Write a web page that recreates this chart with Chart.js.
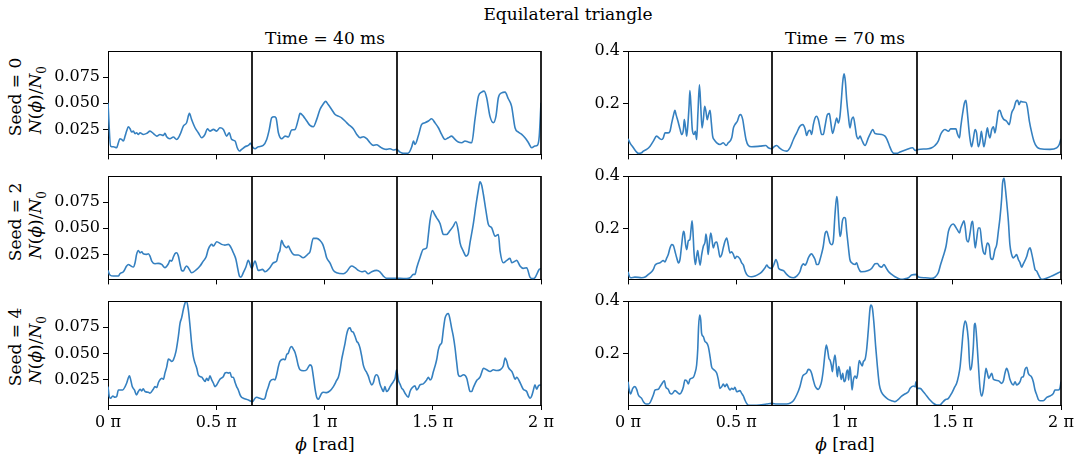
<!DOCTYPE html>
<html>
<head>
<meta charset="utf-8">
<script src="https://cdn.jsdelivr.net/npm/chart.js@4.4.0/dist/chart.umd.min.js"></script>
<style>
  body { margin: 0; width: 1079px; height: 462px; overflow: hidden; background: #fff;
         font-family: "DejaVu Serif", serif; color: #000; }
  canvas { position: absolute; }
  .lbl { position: absolute; font-size: 17px; white-space: nowrap; transform: translate(-50%, -50%); }
  .rot { transform: translate(-50%, -50%) rotate(-90deg); }
  sub { font-size: 12px; }
</style>
</head>
<body>
<div class="lbl" style="left:568px;top:14px">Equilateral triangle</div>
<div class="lbl" style="left:325px;top:38px">Time = 40 ms</div>
<div class="lbl" style="left:845px;top:38px">Time = 70 ms</div>
<div class="lbl" style="left:325px;top:444px"><i>ϕ</i> [rad]</div>
<div class="lbl" style="left:845px;top:444px"><i>ϕ</i> [rad]</div>
<div class="lbl rot" style="left:15px;top:97px">Seed = 0</div>
<div class="lbl rot" style="left:37px;top:100px"><i>N</i>(<i>ϕ</i>)/<i>N</i><sub>0</sub></div>
<div class="lbl rot" style="left:15px;top:222px">Seed = 2</div>
<div class="lbl rot" style="left:37px;top:225px"><i>N</i>(<i>ϕ</i>)/<i>N</i><sub>0</sub></div>
<div class="lbl rot" style="left:15px;top:347px">Seed = 4</div>
<div class="lbl rot" style="left:37px;top:350px"><i>N</i>(<i>ϕ</i>)/<i>N</i><sub>0</sub></div>

<script>
// angle phi in units of pi, normalised count N(phi)/N0

// t = 40 ms, seed 0
const phi40s0 = [
  0, 0.012, 0.025, 0.040, 0.048, 0.055, 0.063, 0.071, 0.079, 0.086,
  0.094, 0.102, 0.109, 0.117, 0.125, 0.132, 0.140, 0.148, 0.163, 0.179,
  0.194, 0.209, 0.225, 0.240, 0.256, 0.263, 0.271, 0.286, 0.302, 0.317,
  0.333, 0.348, 0.363, 0.376, 0.386, 0.402, 0.417, 0.433, 0.448, 0.459,
  0.471, 0.487, 0.502, 0.517, 0.533, 0.548, 0.560, 0.571, 0.587, 0.597,
  0.607, 0.617, 0.633, 0.648, 0.659, 0.667, 0.679, 0.694, 0.717, 0.733,
  0.745, 0.756, 0.767, 0.776, 0.787, 0.802, 0.818, 0.833, 0.848, 0.864,
  0.879, 0.887, 0.902, 0.918, 0.933, 0.948, 0.964, 0.979, 0.995, 1.005,
  1.017, 1.033, 1.049, 1.064, 1.079, 1.095, 1.110, 1.133, 1.149, 1.164,
  1.179, 1.195, 1.210, 1.226, 1.241, 1.256, 1.272, 1.287, 1.303, 1.318,
  1.333, 1.349, 1.364, 1.380, 1.392, 1.403, 1.411, 1.418, 1.433, 1.449,
  1.464, 1.480, 1.495, 1.510, 1.526, 1.541, 1.557, 1.572, 1.587, 1.603,
  1.618, 1.634, 1.649, 1.664, 1.680, 1.695, 1.711, 1.726, 1.737, 1.749,
  1.764, 1.780, 1.792, 1.803, 1.818, 1.834, 1.849, 1.864, 1.880, 1.895,
  1.911, 1.926, 1.942, 1.957, 1.972, 1.983, 1.992, 2.000
];
const n40s0 = [
  0.0505, 0.0091, 0.0084, 0.0075, 0.0123, 0.0161, 0.0154, 0.0139, 0.0186, 0.0234,
  0.0275, 0.0256, 0.0225, 0.0234, 0.0209, 0.0218, 0.0202, 0.0218, 0.0202, 0.0212,
  0.0234, 0.0212, 0.0186, 0.0202, 0.0193, 0.0212, 0.0180, 0.0161, 0.0177, 0.0154,
  0.0202, 0.0282, 0.0314, 0.0403, 0.0346, 0.0266, 0.0218, 0.0170, 0.0202, 0.0256,
  0.0234, 0.0250, 0.0234, 0.0266, 0.0250, 0.0186, 0.0218, 0.0154, 0.0139, 0.0075,
  0.0043, 0.0059, 0.0084, 0.0097, 0.0116, 0.0084, 0.0065, 0.0084, 0.0097, 0.0154,
  0.0250, 0.0361, 0.0371, 0.0361, 0.0218, 0.0161, 0.0186, 0.0177, 0.0244, 0.0250,
  0.0346, 0.0403, 0.0377, 0.0330, 0.0288, 0.0275, 0.0346, 0.0441, 0.0495, 0.0518,
  0.0489, 0.0441, 0.0393, 0.0377, 0.0361, 0.0330, 0.0298, 0.0256, 0.0202, 0.0170,
  0.0180, 0.0161, 0.0123, 0.0097, 0.0104, 0.0084, 0.0065, 0.0059, 0.0065, 0.0053,
  0.0059, 0.0033, 0.0021, 0.0021, 0.0033, 0.0084, 0.0139, 0.0107, 0.0186, 0.0298,
  0.0314, 0.0330, 0.0352, 0.0314, 0.0266, 0.0202, 0.0154, 0.0170, 0.0186, 0.0154,
  0.0129, 0.0123, 0.0139, 0.0129, 0.0123, 0.0346, 0.0568, 0.0607, 0.0616, 0.0553,
  0.0377, 0.0314, 0.0377, 0.0553, 0.0600, 0.0607, 0.0543, 0.0473, 0.0266, 0.0225,
  0.0202, 0.0170, 0.0123, 0.0075, 0.0091, 0.0097, 0.0186, 0.0505
];

// t = 40 ms, seed 2
const phi40s2 = [
  0, 0.009, 0.025, 0.048, 0.055, 0.071, 0.086, 0.094, 0.102, 0.117,
  0.125, 0.132, 0.140, 0.148, 0.156, 0.163, 0.179, 0.186, 0.194, 0.202,
  0.217, 0.232, 0.248, 0.263, 0.279, 0.286, 0.294, 0.302, 0.309, 0.317,
  0.325, 0.333, 0.340, 0.348, 0.356, 0.363, 0.371, 0.386, 0.410, 0.425,
  0.440, 0.453, 0.463, 0.479, 0.487, 0.502, 0.525, 0.540, 0.556, 0.564,
  0.579, 0.591, 0.597, 0.607, 0.614, 0.625, 0.637, 0.648, 0.664, 0.679,
  0.694, 0.714, 0.725, 0.748, 0.764, 0.779, 0.787, 0.794, 0.802, 0.810,
  0.825, 0.833, 0.841, 0.853, 0.864, 0.879, 0.902, 0.925, 0.933, 0.948,
  0.964, 0.979, 0.992, 1.002, 1.010, 1.025, 1.041, 1.056, 1.087, 1.102,
  1.118, 1.125, 1.141, 1.156, 1.172, 1.187, 1.202, 1.218, 1.241, 1.256,
  1.272, 1.287, 1.318, 1.349, 1.380, 1.395, 1.411, 1.418, 1.426, 1.441,
  1.456, 1.472, 1.480, 1.487, 1.498, 1.507, 1.518, 1.534, 1.541, 1.549,
  1.564, 1.580, 1.595, 1.607, 1.618, 1.626, 1.641, 1.654, 1.664, 1.672,
  1.687, 1.700, 1.711, 1.718, 1.726, 1.734, 1.746, 1.757, 1.772, 1.788,
  1.803, 1.811, 1.826, 1.842, 1.857, 1.865, 1.880, 1.888, 1.903, 1.918,
  1.934, 1.949, 1.962, 1.972, 1.992, 2.000
];
const n40s2 = [
  0.0097, 0.0053, 0.0043, 0.0043, 0.0065, 0.0084, 0.0139, 0.0154, 0.0145, 0.0129,
  0.0170, 0.0250, 0.0288, 0.0266, 0.0275, 0.0256, 0.0250, 0.0256, 0.0234, 0.0186,
  0.0161, 0.0164, 0.0154, 0.0123, 0.0161, 0.0193, 0.0186, 0.0225, 0.0256, 0.0266,
  0.0234, 0.0154, 0.0097, 0.0091, 0.0123, 0.0139, 0.0123, 0.0075, 0.0107, 0.0139,
  0.0186, 0.0225, 0.0298, 0.0346, 0.0330, 0.0371, 0.0346, 0.0339, 0.0346, 0.0330,
  0.0266, 0.0202, 0.0139, 0.0043, 0.0033, 0.0075, 0.0129, 0.0193, 0.0116, 0.0186,
  0.0097, 0.0107, 0.0084, 0.0123, 0.0170, 0.0186, 0.0256, 0.0288, 0.0384, 0.0346,
  0.0314, 0.0330, 0.0298, 0.0256, 0.0244, 0.0244, 0.0218, 0.0256, 0.0275, 0.0403,
  0.0403, 0.0384, 0.0346, 0.0282, 0.0218, 0.0170, 0.0097, 0.0075, 0.0065, 0.0084,
  0.0129, 0.0139, 0.0123, 0.0097, 0.0084, 0.0091, 0.0065, 0.0084, 0.0097, 0.0084,
  0.0043, 0.0021, 0.0021, 0.0021, 0.0018, 0.0027, 0.0059, 0.0059, 0.0123, 0.0218,
  0.0298, 0.0314, 0.0441, 0.0568, 0.0670, 0.0639, 0.0600, 0.0543, 0.0489, 0.0441,
  0.0441, 0.0479, 0.0521, 0.0562, 0.0473, 0.0361, 0.0282, 0.0234, 0.0256, 0.0361,
  0.0537, 0.0728, 0.0871, 0.0944, 0.0912, 0.0823, 0.0664, 0.0537, 0.0505, 0.0425,
  0.0441, 0.0282, 0.0170, 0.0193, 0.0212, 0.0170, 0.0186, 0.0193, 0.0139, 0.0116,
  0.0123, 0.0033, 0.0018, 0.0027, 0.0107, 0.0116
];

// t = 40 ms, seed 4
const phi40s4 = [
  0, 0.006, 0.012, 0.022, 0.032, 0.040, 0.048, 0.068, 0.079, 0.086,
  0.099, 0.105, 0.112, 0.122, 0.132, 0.140, 0.148, 0.156, 0.163, 0.171,
  0.186, 0.194, 0.209, 0.217, 0.225, 0.233, 0.240, 0.248, 0.256, 0.263,
  0.271, 0.279, 0.286, 0.294, 0.302, 0.314, 0.325, 0.333, 0.340, 0.348,
  0.356, 0.363, 0.371, 0.379, 0.386, 0.394, 0.402, 0.410, 0.417, 0.433,
  0.440, 0.448, 0.456, 0.463, 0.471, 0.479, 0.487, 0.494, 0.502, 0.517,
  0.533, 0.540, 0.548, 0.556, 0.564, 0.571, 0.579, 0.587, 0.594, 0.602,
  0.610, 0.617, 0.625, 0.648, 0.667, 0.679, 0.687, 0.702, 0.718, 0.725,
  0.733, 0.741, 0.748, 0.764, 0.771, 0.779, 0.787, 0.794, 0.810, 0.818,
  0.825, 0.833, 0.841, 0.848, 0.856, 0.864, 0.871, 0.879, 0.887, 0.902,
  0.918, 0.925, 0.933, 0.941, 0.948, 0.956, 0.964, 0.971, 0.979, 0.987,
  0.995, 1.010, 1.025, 1.041, 1.056, 1.064, 1.072, 1.079, 1.087, 1.095,
  1.102, 1.110, 1.118, 1.125, 1.133, 1.141, 1.149, 1.156, 1.164, 1.172,
  1.179, 1.187, 1.195, 1.202, 1.210, 1.218, 1.226, 1.233, 1.241, 1.249,
  1.256, 1.264, 1.272, 1.279, 1.287, 1.295, 1.303, 1.318, 1.326, 1.333,
  1.341, 1.349, 1.357, 1.364, 1.372, 1.387, 1.395, 1.403, 1.418, 1.426,
  1.433, 1.441, 1.456, 1.472, 1.480, 1.487, 1.495, 1.503, 1.510, 1.518,
  1.526, 1.534, 1.541, 1.549, 1.557, 1.564, 1.572, 1.580, 1.587, 1.595,
  1.603, 1.610, 1.618, 1.626, 1.642, 1.657, 1.664, 1.672, 1.680, 1.688,
  1.703, 1.718, 1.726, 1.734, 1.749, 1.765, 1.780, 1.796, 1.811, 1.826,
  1.834, 1.842, 1.849, 1.865, 1.872, 1.880, 1.888, 1.903, 1.918, 1.934,
  1.942, 1.950, 1.957, 1.965, 1.972, 1.980, 1.988, 2.000
];
const n40s4 = [
  0.0186, 0.0091, 0.0075, 0.0097, 0.0084, 0.0091, 0.0154, 0.0154, 0.0186, 0.0218,
  0.0288, 0.0250, 0.0186, 0.0154, 0.0107, 0.0139, 0.0161, 0.0145, 0.0164, 0.0139,
  0.0132, 0.0123, 0.0161, 0.0186, 0.0177, 0.0225, 0.0250, 0.0266, 0.0256, 0.0314,
  0.0371, 0.0447, 0.0441, 0.0425, 0.0441, 0.0521, 0.0664, 0.0791, 0.0839, 0.0919,
  0.0982, 0.0998, 0.0919, 0.0760, 0.0600, 0.0473, 0.0409, 0.0361, 0.0298, 0.0275,
  0.0256, 0.0234, 0.0266, 0.0244, 0.0288, 0.0250, 0.0218, 0.0186, 0.0202, 0.0256,
  0.0282, 0.0314, 0.0320, 0.0314, 0.0320, 0.0275, 0.0275, 0.0225, 0.0186, 0.0154,
  0.0107, 0.0084, 0.0075, 0.0059, 0.0043, 0.0075, 0.0084, 0.0075, 0.0065, 0.0075,
  0.0139, 0.0186, 0.0234, 0.0256, 0.0250, 0.0298, 0.0377, 0.0425, 0.0447, 0.0441,
  0.0489, 0.0505, 0.0553, 0.0568, 0.0543, 0.0511, 0.0457, 0.0384, 0.0346, 0.0336,
  0.0346, 0.0371, 0.0393, 0.0377, 0.0288, 0.0170, 0.0084, 0.0065, 0.0091, 0.0123,
  0.0132, 0.0129, 0.0145, 0.0186, 0.0244, 0.0275, 0.0346, 0.0441, 0.0521, 0.0600,
  0.0680, 0.0734, 0.0744, 0.0712, 0.0702, 0.0664, 0.0616, 0.0600, 0.0553, 0.0473,
  0.0393, 0.0346, 0.0320, 0.0288, 0.0234, 0.0202, 0.0225, 0.0282, 0.0298, 0.0275,
  0.0212, 0.0170, 0.0139, 0.0186, 0.0139, 0.0154, 0.0186, 0.0234, 0.0266, 0.0346,
  0.0250, 0.0209, 0.0170, 0.0154, 0.0123, 0.0084, 0.0139, 0.0170, 0.0193, 0.0154,
  0.0170, 0.0202, 0.0212, 0.0250, 0.0275, 0.0250, 0.0266, 0.0330, 0.0377, 0.0441,
  0.0537, 0.0584, 0.0600, 0.0728, 0.0839, 0.0871, 0.0881, 0.0823, 0.0744, 0.0664,
  0.0553, 0.0425, 0.0298, 0.0282, 0.0298, 0.0266, 0.0202, 0.0139, 0.0139, 0.0180,
  0.0244, 0.0275, 0.0320, 0.0361, 0.0346, 0.0330, 0.0346, 0.0339, 0.0346, 0.0384,
  0.0457, 0.0425, 0.0371, 0.0330, 0.0298, 0.0256, 0.0275, 0.0225, 0.0161, 0.0139,
  0.0097, 0.0075, 0.0097, 0.0154, 0.0202, 0.0161, 0.0193, 0.0202
];

// t = 70 ms, seed 0
const phi70s0 = [
  0, 0.009, 0.025, 0.040, 0.048, 0.063, 0.071, 0.086, 0.102, 0.117,
  0.132, 0.148, 0.156, 0.163, 0.171, 0.186, 0.194, 0.202, 0.209, 0.217,
  0.222, 0.233, 0.240, 0.248, 0.256, 0.260, 0.266, 0.271, 0.276, 0.282,
  0.286, 0.291, 0.297, 0.305, 0.311, 0.317, 0.323, 0.330, 0.336, 0.342,
  0.348, 0.354, 0.360, 0.366, 0.372, 0.379, 0.385, 0.391, 0.397, 0.410,
  0.425, 0.440, 0.453, 0.463, 0.479, 0.487, 0.494, 0.505, 0.514, 0.520,
  0.530, 0.536, 0.545, 0.556, 0.571, 0.610, 0.637, 0.648, 0.664, 0.674,
  0.687, 0.699, 0.714, 0.733, 0.748, 0.764, 0.779, 0.794, 0.807, 0.818,
  0.825, 0.833, 0.841, 0.848, 0.856, 0.864, 0.871, 0.879, 0.887, 0.894,
  0.902, 0.910, 0.921, 0.930, 0.936, 0.945, 0.956, 0.964, 0.971, 0.979,
  0.985, 0.992, 0.998, 1.004, 1.010, 1.018, 1.025, 1.033, 1.041, 1.049,
  1.056, 1.064, 1.072, 1.079, 1.095, 1.110, 1.121, 1.130, 1.141, 1.172,
  1.187, 1.195, 1.207, 1.218, 1.229, 1.241, 1.256, 1.287, 1.315, 1.326,
  1.341, 1.387, 1.403, 1.418, 1.433, 1.444, 1.453, 1.464, 1.480, 1.490,
  1.506, 1.515, 1.521, 1.531, 1.537, 1.546, 1.554, 1.561, 1.567, 1.574,
  1.580, 1.587, 1.595, 1.603, 1.610, 1.618, 1.626, 1.632, 1.638, 1.644,
  1.652, 1.660, 1.666, 1.672, 1.680, 1.688, 1.695, 1.703, 1.711, 1.718,
  1.726, 1.734, 1.749, 1.761, 1.772, 1.783, 1.792, 1.800, 1.806, 1.814,
  1.826, 1.838, 1.844, 1.854, 1.865, 1.875, 1.888, 1.903, 1.949, 1.980,
  1.992, 2.000
];
const n70s0 = [
  0.0666, 0.0515, 0.0326, 0.0163, 0.0113, 0.0138, 0.0201, 0.0264, 0.0389, 0.0578,
  0.0767, 0.0666, 0.0641, 0.0704, 0.0893, 0.0893, 0.0955, 0.1270, 0.1522, 0.1748,
  0.1585, 0.1270, 0.1043, 0.0830, 0.1018, 0.1396, 0.1081, 0.0767, 0.1144, 0.1900,
  0.2503, 0.1900, 0.1018, 0.0830, 0.0955, 0.0641, 0.1648, 0.2717, 0.1900, 0.1081,
  0.1396, 0.1900, 0.1710, 0.1396, 0.1585, 0.1748, 0.1270, 0.0767, 0.0641, 0.0515,
  0.0452, 0.0515, 0.0414, 0.0515, 0.0704, 0.1081, 0.1207, 0.1333, 0.1547, 0.1585,
  0.1396, 0.1081, 0.0641, 0.0414, 0.0364, 0.0389, 0.0414, 0.0326, 0.0289, 0.0364,
  0.0414, 0.0326, 0.0238, 0.0201, 0.0326, 0.0641, 0.0893, 0.1144, 0.1207, 0.1043,
  0.0792, 0.0955, 0.0993, 0.0830, 0.1207, 0.1459, 0.1522, 0.1396, 0.1081, 0.0830,
  0.0830, 0.1144, 0.1585, 0.1622, 0.1333, 0.0868, 0.1207, 0.1459, 0.1270, 0.1522,
  0.2088, 0.2840, 0.3130, 0.2840, 0.2150, 0.1522, 0.1081, 0.1396, 0.1497, 0.1144,
  0.0767, 0.0666, 0.0767, 0.0641, 0.0414, 0.0704, 0.0893, 0.1018, 0.0868, 0.0830,
  0.0767, 0.0666, 0.0414, 0.0201, 0.0113, 0.0113, 0.0163, 0.0264, 0.0326, 0.0226,
  0.0264, 0.0289, 0.0326, 0.0414, 0.0578, 0.0830, 0.0955, 0.1018, 0.0955, 0.1043,
  0.1043, 0.1043, 0.0868, 0.0704, 0.1119, 0.1648, 0.2025, 0.2126, 0.1710, 0.1081,
  0.0641, 0.0364, 0.0666, 0.1018, 0.0893, 0.0364, 0.0578, 0.0955, 0.0641, 0.0364,
  0.0704, 0.1081, 0.0830, 0.0704, 0.1018, 0.1119, 0.0893, 0.1270, 0.1710, 0.1748,
  0.1547, 0.1421, 0.1333, 0.1207, 0.1648, 0.1836, 0.2088, 0.2126, 0.1962, 0.2088,
  0.2063, 0.2050, 0.1900, 0.1333, 0.0893, 0.0578, 0.0364, 0.0289, 0.0264, 0.0326,
  0.0452, 0.0666
];

// t = 70 ms, seed 2
const phi70s2 = [
  0, 0.006, 0.012, 0.032, 0.063, 0.079, 0.094, 0.109, 0.117, 0.125,
  0.132, 0.148, 0.163, 0.171, 0.179, 0.186, 0.194, 0.202, 0.209, 0.217,
  0.225, 0.233, 0.240, 0.248, 0.256, 0.260, 0.266, 0.271, 0.279, 0.286,
  0.291, 0.296, 0.300, 0.305, 0.311, 0.317, 0.322, 0.326, 0.333, 0.340,
  0.348, 0.356, 0.360, 0.365, 0.370, 0.376, 0.382, 0.386, 0.394, 0.402,
  0.410, 0.417, 0.425, 0.433, 0.440, 0.448, 0.456, 0.463, 0.471, 0.479,
  0.487, 0.494, 0.502, 0.517, 0.525, 0.533, 0.540, 0.548, 0.556, 0.571,
  0.587, 0.602, 0.617, 0.633, 0.641, 0.648, 0.664, 0.674, 0.683, 0.690,
  0.696, 0.717, 0.733, 0.748, 0.764, 0.779, 0.794, 0.802, 0.810, 0.818,
  0.825, 0.833, 0.848, 0.856, 0.864, 0.871, 0.879, 0.887, 0.894, 0.902,
  0.910, 0.918, 0.925, 0.933, 0.941, 0.948, 0.956, 0.964, 0.968, 0.974,
  0.979, 0.984, 0.990, 0.998, 1.004, 1.010, 1.018, 1.025, 1.033, 1.049,
  1.056, 1.064, 1.072, 1.079, 1.110, 1.125, 1.141, 1.152, 1.161, 1.172,
  1.182, 1.192, 1.202, 1.218, 1.233, 1.249, 1.264, 1.279, 1.295, 1.310,
  1.333, 1.341, 1.372, 1.403, 1.418, 1.433, 1.444, 1.456, 1.469, 1.480,
  1.492, 1.503, 1.510, 1.521, 1.531, 1.537, 1.546, 1.552, 1.558, 1.564,
  1.572, 1.580, 1.587, 1.592, 1.598, 1.604, 1.610, 1.618, 1.626, 1.634,
  1.641, 1.649, 1.654, 1.660, 1.669, 1.675, 1.684, 1.695, 1.703, 1.711,
  1.718, 1.726, 1.730, 1.737, 1.741, 1.749, 1.757, 1.764, 1.772, 1.780,
  1.788, 1.795, 1.803, 1.811, 1.818, 1.826, 1.842, 1.849, 1.857, 1.865,
  1.872, 1.880, 1.888, 1.895, 1.903, 1.911, 1.926, 1.957, 1.988, 2.000
];
const n70s2 = [
  0.0364, 0.0201, 0.0138, 0.0163, 0.0138, 0.0163, 0.0264, 0.0364, 0.0452, 0.0616,
  0.0666, 0.0704, 0.0792, 0.0742, 0.0893, 0.1018, 0.1270, 0.1396, 0.1371, 0.1144,
  0.0893, 0.0704, 0.0830, 0.1396, 0.1900, 0.1836, 0.1396, 0.1207, 0.1547, 0.1585,
  0.1962, 0.2302, 0.1900, 0.1081, 0.0641, 0.0955, 0.1169, 0.0955, 0.0616, 0.0993,
  0.1333, 0.1497, 0.1798, 0.1547, 0.1018, 0.1459, 0.1836, 0.1710, 0.1270, 0.1459,
  0.1497, 0.1245, 0.0918, 0.1018, 0.1270, 0.1522, 0.1648, 0.1396, 0.1081, 0.1119,
  0.1018, 0.0868, 0.0955, 0.0855, 0.0704, 0.0616, 0.0414, 0.0264, 0.0201, 0.0175,
  0.0201, 0.0264, 0.0352, 0.0515, 0.0616, 0.0540, 0.0490, 0.0641, 0.0830, 0.0704,
  0.0490, 0.0414, 0.0264, 0.0163, 0.0138, 0.0201, 0.0364, 0.0578, 0.0666, 0.0616,
  0.0704, 0.0893, 0.1043, 0.0955, 0.0830, 0.0641, 0.0641, 0.0830, 0.1043, 0.1333,
  0.1798, 0.1900, 0.1710, 0.1459, 0.1396, 0.1522, 0.2528, 0.3220, 0.3031, 0.2214,
  0.1710, 0.1836, 0.2276, 0.2427, 0.2402, 0.1900, 0.1295, 0.0830, 0.0704, 0.0641,
  0.0704, 0.0515, 0.0389, 0.0364, 0.0414, 0.0490, 0.0666, 0.0679, 0.0578, 0.0540,
  0.0641, 0.0515, 0.0389, 0.0264, 0.0175, 0.0113, 0.0075, 0.0100, 0.0138, 0.0238,
  0.0264, 0.0163, 0.0138, 0.0113, 0.0163, 0.0326, 0.0641, 0.0955, 0.1333, 0.1900,
  0.2126, 0.2176, 0.2113, 0.1962, 0.1836, 0.2025, 0.2214, 0.2302, 0.2025, 0.1585,
  0.1497, 0.1836, 0.2214, 0.2276, 0.1710, 0.1270, 0.1585, 0.2025, 0.2025, 0.1459,
  0.1119, 0.1018, 0.1270, 0.1459, 0.1333, 0.0893, 0.0830, 0.1207, 0.1396, 0.1924,
  0.2402, 0.3157, 0.3723, 0.3912, 0.3685, 0.3031, 0.2276, 0.1396, 0.1018, 0.0893,
  0.0955, 0.1018, 0.0830, 0.0704, 0.0540, 0.0666, 0.0955, 0.1169, 0.1270, 0.1043,
  0.0767, 0.0452, 0.0389, 0.0264, 0.0138, 0.0075, 0.0100, 0.0201, 0.0326, 0.0364
];

// t = 70 ms, seed 4
const phi70s4 = [
  0, 0.006, 0.012, 0.022, 0.032, 0.040, 0.048, 0.063, 0.071, 0.083,
  0.094, 0.102, 0.109, 0.117, 0.125, 0.140, 0.148, 0.156, 0.168, 0.174,
  0.186, 0.194, 0.202, 0.217, 0.233, 0.240, 0.248, 0.256, 0.263, 0.271,
  0.279, 0.286, 0.302, 0.309, 0.317, 0.322, 0.326, 0.331, 0.336, 0.340,
  0.348, 0.356, 0.363, 0.371, 0.379, 0.386, 0.394, 0.402, 0.410, 0.417,
  0.425, 0.433, 0.440, 0.448, 0.456, 0.463, 0.471, 0.479, 0.487, 0.494,
  0.502, 0.517, 0.525, 0.533, 0.540, 0.548, 0.556, 0.594, 0.641, 0.664,
  0.687, 0.733, 0.748, 0.764, 0.779, 0.794, 0.807, 0.818, 0.825, 0.833,
  0.841, 0.848, 0.856, 0.864, 0.871, 0.879, 0.887, 0.894, 0.902, 0.910,
  0.916, 0.922, 0.928, 0.933, 0.939, 0.944, 0.948, 0.956, 0.961, 0.967,
  0.973, 0.979, 0.985, 0.992, 0.998, 1.004, 1.010, 1.015, 1.019, 1.025,
  1.030, 1.035, 1.041, 1.049, 1.056, 1.061, 1.068, 1.075, 1.082, 1.087,
  1.095, 1.102, 1.110, 1.118, 1.122, 1.129, 1.136, 1.144, 1.152, 1.161,
  1.172, 1.187, 1.202, 1.218, 1.233, 1.249, 1.264, 1.279, 1.295, 1.303,
  1.318, 1.326, 1.330, 1.333, 1.349, 1.364, 1.380, 1.395, 1.411, 1.426,
  1.441, 1.449, 1.464, 1.480, 1.495, 1.510, 1.518, 1.526, 1.534, 1.541,
  1.549, 1.557, 1.564, 1.572, 1.580, 1.587, 1.595, 1.600, 1.604, 1.610,
  1.618, 1.626, 1.634, 1.641, 1.649, 1.654, 1.660, 1.667, 1.680, 1.688,
  1.711, 1.726, 1.734, 1.741, 1.749, 1.757, 1.764, 1.780, 1.788, 1.795,
  1.811, 1.818, 1.826, 1.834, 1.842, 1.849, 1.865, 1.872, 1.880, 1.888,
  1.895, 1.903, 1.918, 1.934, 1.949, 1.965, 1.972, 1.988, 1.995, 2.000
];
const n70s4 = [
  0.0955, 0.0641, 0.0490, 0.0704, 0.0767, 0.0666, 0.0452, 0.0326, 0.0201, 0.0113,
  0.0113, 0.0163, 0.0289, 0.0452, 0.0641, 0.0666, 0.0767, 0.0868, 0.0993, 0.0767,
  0.0666, 0.0515, 0.0490, 0.0616, 0.0515, 0.0490, 0.0578, 0.0767, 0.1018, 0.0993,
  0.0868, 0.1043, 0.1119, 0.1270, 0.1585, 0.2150, 0.3031, 0.3472, 0.3283, 0.2779,
  0.2654, 0.2465, 0.2427, 0.2276, 0.1900, 0.1522, 0.1421, 0.1371, 0.1270, 0.1043,
  0.0704, 0.0767, 0.0868, 0.0767, 0.0868, 0.0742, 0.0641, 0.0704, 0.0666, 0.0742,
  0.0578, 0.0616, 0.0515, 0.0414, 0.0264, 0.0138, 0.0075, 0.0062, 0.0113, 0.0138,
  0.0113, 0.0113, 0.0138, 0.0238, 0.0452, 0.0767, 0.1169, 0.1245, 0.1295, 0.1421,
  0.1396, 0.1270, 0.1018, 0.0792, 0.0704, 0.0666, 0.0767, 0.0955, 0.1396, 0.2025,
  0.2340, 0.2150, 0.1836, 0.1773, 0.1585, 0.1333, 0.1585, 0.1962, 0.1648, 0.1144,
  0.1522, 0.1333, 0.1043, 0.1270, 0.0955, 0.1018, 0.1333, 0.1396, 0.1018, 0.1522,
  0.1144, 0.0641, 0.1018, 0.1169, 0.1081, 0.1270, 0.1748, 0.1648, 0.1547, 0.1710,
  0.1798, 0.2150, 0.2905, 0.3723, 0.3850, 0.3723, 0.3157, 0.2276, 0.1522, 0.0830,
  0.0540, 0.0389, 0.0289, 0.0238, 0.0201, 0.0289, 0.0414, 0.0490, 0.0578, 0.0704,
  0.0792, 0.0767, 0.0955, 0.0704, 0.0704, 0.0578, 0.0414, 0.0264, 0.0138, 0.0075,
  0.0075, 0.0138, 0.0264, 0.0326, 0.0515, 0.0767, 0.0893, 0.1144, 0.1522, 0.2150,
  0.2905, 0.3245, 0.3094, 0.2528, 0.1396, 0.1522, 0.2276, 0.3094, 0.3157, 0.2654,
  0.1648, 0.0704, 0.0414, 0.0641, 0.1207, 0.1459, 0.1270, 0.1081, 0.1270, 0.1043,
  0.0993, 0.0893, 0.0993, 0.1270, 0.1459, 0.1295, 0.1043, 0.0830, 0.0955, 0.0830,
  0.0955, 0.1119, 0.1144, 0.1421, 0.1497, 0.1270, 0.1119, 0.0955, 0.0641, 0.0452,
  0.0289, 0.0238, 0.0238, 0.0364, 0.0414, 0.0515, 0.0641, 0.0641, 0.0704, 0.0955
];

// axis settings
const xTicks = [0, 0.5, 1, 1.5, 2];
const sectorEdges = [2 / 3, 4 / 3, 2];
const yTicks40 = [0.025, 0.05, 0.075];
const yTicks70 = [0.2, 0.4];
const yRange40 = [0.0011, 0.1];
const yRange70 = [0.0075, 0.4];

const panels = [
  { phi: phi40s0, n: n40s0, col: 0, row: 0 },
  { phi: phi40s2, n: n40s2, col: 0, row: 1 },
  { phi: phi40s4, n: n40s4, col: 0, row: 2 },
  { phi: phi70s0, n: n70s0, col: 1, row: 0 },
  { phi: phi70s2, n: n70s2, col: 1, row: 1 },
  { phi: phi70s4, n: n70s4, col: 1, row: 2 }
];

const plotLeft = [108, 628];
const plotTop = [51, 176, 301];
const plotW = 433, plotH = 104;
const yAxisW = 58, padTop = 14, padRight = 18;

Chart.defaults.font.family = '"DejaVu Serif", serif';
Chart.defaults.font.size = 16;
Chart.defaults.color = '#000';

// outer frame and the sector boundaries at 2pi/3, 4pi/3, 2pi
const framePlugin = {
  id: 'frame',
  afterDatasetsDraw(chart) {
    const { ctx, chartArea: a, scales: { x } } = chart;
    ctx.save();
    ctx.strokeStyle = '#000';
    ctx.lineWidth = 1;
    ctx.beginPath();
    ctx.moveTo(a.left, a.top + 0.5);
    ctx.lineTo(a.right, a.top + 0.5);
    ctx.stroke();
    ctx.lineWidth = 1.7;
    sectorEdges.forEach(v => {
      const px = Math.round(x.getPixelForValue(v));
      ctx.beginPath();
      ctx.moveTo(px, a.top);
      ctx.lineTo(px, a.bottom);
      ctx.stroke();
    });
    ctx.restore();
  }
};

panels.forEach(p => {
  const bottomRow = p.row === 2;
  const xAxisH = bottomRow ? 28 : 12;
  const canvas = document.createElement('canvas');
  canvas.width = yAxisW + plotW + padRight;
  canvas.height = padTop + plotH + xAxisH;
  canvas.style.left = (plotLeft[p.col] - yAxisW) + 'px';
  canvas.style.top = (plotTop[p.row] - padTop) + 'px';
  document.body.appendChild(canvas);

  const yTicks = p.col === 0 ? yTicks40 : yTicks70;
  const yRange = p.col === 0 ? yRange40 : yRange70;
  const decimals = p.col === 0 ? 3 : 1;

  new Chart(canvas, {
    type: 'line',
    data: {
      datasets: [{
        data: p.phi.map((v, i) => ({ x: v, y: p.n[i] })),
        borderColor: '#3580c0',
        borderWidth: 1.6,
        pointRadius: 0,
        cubicInterpolationMode: 'monotone'
      }]
    },
    options: {
      responsive: false,
      animation: false,
      devicePixelRatio: 1,
      layout: { padding: { top: padTop, right: padRight, left: 0, bottom: 0 } },
      plugins: { legend: { display: false }, tooltip: { enabled: false } },
      scales: {
        x: {
          type: 'linear',
          min: 0,
          max: 2,
          afterBuildTicks: s => { s.ticks = xTicks.map(v => ({ value: v })); },
          afterFit: s => { s.height = xAxisH; },
          ticks: {
            display: bottomRow,
            maxRotation: 0,
            autoSkip: false,
            padding: 3,
            callback: v => v + ' π'
          },
          grid: { drawOnChartArea: false, drawTicks: true, tickLength: 5, color: '#000' },
          border: { color: '#000', width: 1 }
        },
        y: {
          min: yRange[0],
          max: yRange[1],
          afterBuildTicks: s => { s.ticks = yTicks.map(v => ({ value: v })); },
          afterFit: s => { s.width = yAxisW; },
          ticks: {
            padding: 3,
            callback: v => v.toFixed(decimals)
          },
          grid: { drawOnChartArea: false, drawTicks: true, tickLength: 5, color: '#000' },
          border: { color: '#000', width: 1 }
        }
      }
    },
    plugins: [framePlugin]
  });
});
</script>
</body>
</html>
